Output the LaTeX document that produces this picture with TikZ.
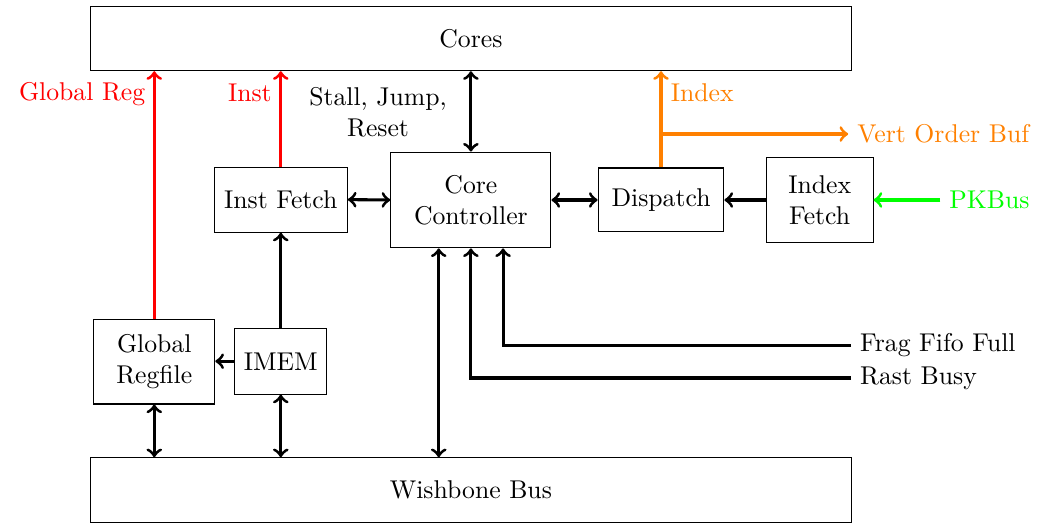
\documentclass[tikz,border=0pt]{standalone}
\usepackage{tikz}
\usetikzlibrary{arrows}
\usepackage{xcolor}

\begin{document}
\begin{tikzpicture}[>=to]
\tikzset{
    blk/.style={%
        draw, thin,
        rectangle,
        align=center,
        inner sep=2pt
        },
    bus/.style={%
        draw, thin,
        rectangle,
        minimum height=0.88cm,
        minimum width=10.4cm
        },
    sig/.style={%
        very thick
        },
}
\useasboundingbox (0,0) rectangle (14.36,-7.155);
%%%BUSES
\node[bus] (cores) at (6.44,-0.527) {Cores};
\node[bus] (wb) at (6.44,-6.70) {Wishbone Bus};
%%%BLOCKS
\node[blk, minimum width=1.82cm, minimum height=0.89cm] (ifetch) at (3.84,-2.73) {Inst Fetch};
\node[blk, minimum width=2.19cm, minimum height=1.31cm] (ctrl) at (6.44,-2.735) {Core\\Controller};
\node[blk, minimum width=1.72cm, minimum height=0.875cm] (disp) at (9.04,-2.735) {Dispatch};
\node[blk, minimum width=1.46cm, minimum height=1.15cm] (idxf) at (11.21,-2.735) {Index\\Fetch};
\node[blk, minimum width=1.655cm, minimum height=1.15cm] (greg) at (2.11,-4.95) {Global\\Regfile};
\node[blk, minimum width=1.26cm, minimum height=0.9cm] (imem) at (3.84,-4.94) {IMEM};
%%%LABELS
\node[red, anchor=east] (lgreg) at (2.11,-1.29) {Global Reg};
\node[red, anchor=east] (linst) at (3.84,-1.27) {Inst};
\node[align=center] (lstall) at (5.17,-1.53) {Stall, Jump,\\Reset};
\node[orange, anchor=west] (lidx) at (9.05,-1.27) {Index};
\node[orange, anchor=west] (vob) at (11.6,-1.833) {Vert Order Buf};
\node[green, anchor=west] (pk) at (12.86,-2.735) {PKBus};
\node[anchor=west] (frag) at (11.64,-4.72) {Frag Fifo Full};
\node[anchor=west] (rast) at (11.64,-5.17) {Rast Busy};
%%%CONNECTIONS
\draw[->, sig, red] (greg.north) -- (greg.north |- cores.south);
\draw[->, sig, red] (ifetch.north) -- (ifetch.north |- cores.south);
\draw[<->, sig] (ctrl.north) -- (ctrl.north |- cores.south);
\draw[<->, sig] (ifetch.east) -- (ctrl.west);
\draw[<->, sig] (ctrl.east) -- (disp.west);
\draw[->, sig] (idxf.west) -- (disp.east);
\draw[->, sig] (imem.north) -- (imem.north |- ifetch.south);
\draw[->, sig] (imem.west) -- (imem.west -| greg.east);
\draw[<->, sig] (greg.south) -- (greg.south |- wb.north);
\draw[<->, sig] (imem.south) -- (imem.south |- wb.north);
\draw[<->, sig] ([xshift=-0.44cm]ctrl.south) -- ([xshift=-0.44cm]ctrl.south |- wb.north);
\draw[->, sig] (rast.west) -| (ctrl.south);
\draw[->, sig] (frag.west) -| ([xshift=0.44cm]ctrl.south);
\draw[->, sig, orange] (disp.north) -- (disp.north |- cores.south);
\draw[->, sig, orange] (disp.north |- vob.west) -- (vob.west);
\draw[->, sig, green] (pk.west) -- (idxf.east);
\end{tikzpicture}
\end{document}
